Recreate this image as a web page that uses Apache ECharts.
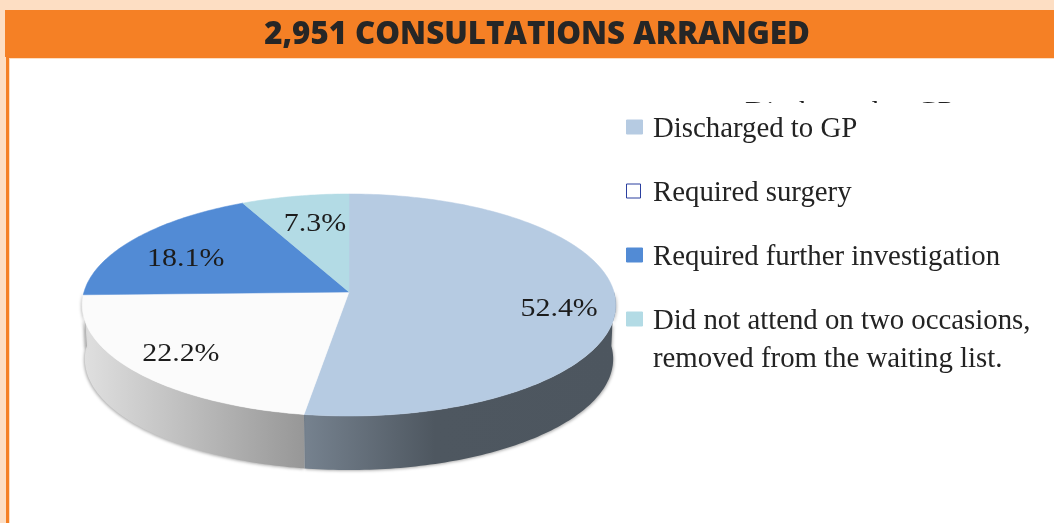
<!DOCTYPE html>
<html>
<head>
<meta charset="utf-8">
<style>
  html, body { margin: 0; padding: 0; background: #fff; }
  #main { width: 1054px; height: 523px; }
</style>
<script src="https://cdn.jsdelivr.net/npm/echarts@6/dist/echarts.min.js"></script>
</head>
<body>
<div id="main"></div>
<script>
var titleText = '2,951 CONSULTATIONS ARRANGED';
var categories = ['Discharged to GP', 'Required surgery', 'Required further investigation', 'Did not attend on two occasions,\nremoved from the waiting list.'];
var shares = [52.4, 22.2, 18.1, 7.3];
var topColors = ['#b6cbe2', '#fbfbfb', '#528bd5', '#b3dbe5'];
var legendColors = ['#b6cbe2', '#ffffff', '#528bd5', '#b3dbe5'];
var legendBorders = ['#b6cbe2', '#2a3f9f', '#528bd5', '#b3dbe5'];

// tilted disc, centre of the slices is not the centre of the ellipse
var cx = 349, cy = 292, rx = 265, ry = 109.5, tilt = -0.117, depth = 54;

// where the percentage sits for each slice, relative to 70% out along the mid angle
var labelNudge = [[24, 11], [-21, 9], [-11, 5], [5, 1]];

function project(deg, f) {
    var a = deg * Math.PI / 180;
    var u = Math.sin(a) * f, v = -Math.cos(a) * f;
    var d = 1 + tilt * v;
    return [cx + rx * u / d, cy + ry * v / d];
}

function sliceRange(index, value) {
    var start = 0;
    for (var i = 0; i < index; i++) start += shares[i];
    return [start * 3.6, (start + value) * 3.6];
}

function rim(a, b) {
    var pts = [];
    for (var t = a; t < b; t += 1) pts.push(project(t, 1));
    pts.push(project(b, 1));
    return pts;
}

function wallFill(index) {
    if (index === 0) {
        return { type: 'linear', x: 0, y: 0, x2: 1, y2: 0, colorStops: [
            { offset: 0, color: '#76828f' }, { offset: 0.42, color: '#4e5760' }, { offset: 1, color: '#4d565f' }
        ] };
    }
    return { type: 'linear', x: 0, y: 0, x2: 1, y2: 0, colorStops: [
        { offset: 0, color: '#e0e0e0' }, { offset: 1, color: '#979797' }
    ] };
}

function renderWall(params, api) {
    var range = sliceRange(params.dataIndex, api.value(0));
    // only the front of the disc shows a wall
    var a = Math.max(range[0], 90), b = Math.min(range[1], 270);
    if (b <= a) return null;
    var top = rim(a, b);
    var bottom = top.map(function (p) {
        return [cx + (p[0] - cx) * 0.99, p[1] + depth];
    }).reverse();
    return {
        type: 'polygon',
        shape: { points: top.concat(bottom) },
        style: {
            fill: wallFill(params.dataIndex),
            shadowBlur: 3,
            shadowColor: 'rgba(0,0,0,0.3)',
            shadowOffsetX: params.dataIndex === 0 ? 1 : -1,
            shadowOffsetY: 1
        }
    };
}

function renderTop(params, api) {
    var value = api.value(0);
    var range = sliceRange(params.dataIndex, value);
    var color = topColors[params.dataIndex];
    var base = project((range[0] + range[1]) / 2, 0.7);
    var nudge = labelNudge[params.dataIndex];
    return {
        type: 'group',
        children: [{
            type: 'polygon',
            shape: { points: [[cx, cy]].concat(rim(range[0], range[1])) },
            style: { fill: color, stroke: color, lineWidth: 0.5 }
        }, {
            type: 'text',
            x: base[0] + nudge[0],
            y: base[1] + nudge[1],
            scaleX: 1.15,
            z2: 10,
            style: {
                text: value.toFixed(1) + '%',
                fill: '#1c1c1c',
                font: '26px "Liberation Serif"',
                align: 'center',
                verticalAlign: 'middle'
            }
        }]
    };
}

function buildGraphic() {
    var items = [
        { type: 'rect', z: 0, shape: { x: 0, y: 0, width: 1054, height: 523 }, style: { fill: '#fddec3' } },
        { type: 'rect', z: 0, shape: { x: 6, y: 57, width: 1048, height: 466 }, style: { fill: '#f58025' } },
        { type: 'rect', z: 0, shape: { x: 5, y: 10, width: 1049, height: 47 }, style: { fill: '#f58025' } },
        { type: 'rect', z: 0, shape: { x: 9, y: 58, width: 1045, height: 465 }, style: { fill: '#fddec3' } },
        { type: 'rect', z: 0, shape: { x: 10, y: 59, width: 1044, height: 464 }, style: { fill: '#ffffff' } },
        // old heading left behind in the source image, only its top shows
        { type: 'text', z: 1, x: 745, y: 98, style: { text: categories[0], fill: '#222', font: '29.5px "Liberation Serif"', textVerticalAlign: 'top' } },
        { type: 'rect', z: 1, shape: { x: 700, y: 103, width: 354, height: 40 }, style: { fill: '#ffffff' } }
    ];
    categories.forEach(function (name, i) {
        var mid = 127 + i * 64;
        items.push({
            type: 'rect', z: 3,
            shape: { x: 626.5, y: mid - 7, width: i === 1 ? 14 : 16, height: 14 },
            style: { fill: legendColors[i], stroke: legendBorders[i], lineWidth: 1 }
        });
        name.split('\n').forEach(function (line, j) {
            items.push({
                type: 'text', z: 3, x: 653, y: mid + 2 + j * 38,
                style: { text: line, fill: '#232323', font: '28.8px "Liberation Serif"', textVerticalAlign: 'middle' }
            });
        });
    });
    return items;
}

var chart = echarts.init(document.getElementById('main'), null, { renderer: 'canvas' });
var sliceData = shares.map(function (v, i) { return { name: categories[i], value: [v] }; });

chart.setOption({
    animation: false,
    backgroundColor: '#ffffff',
    title: {
        text: titleText,
        left: 532,
        top: 15,
        textAlign: 'center',
        z: 5,
        textStyle: { fontFamily: 'Open Sans', fontWeight: 800, fontSize: 31.2, color: '#262626' }
    },
    graphic: buildGraphic(),
    series: [
        { type: 'custom', coordinateSystem: 'none', z: 2, silent: true, renderItem: renderWall, data: sliceData },
        { type: 'custom', coordinateSystem: 'none', z: 3, silent: true, renderItem: renderTop, data: sliceData }
    ]
});
</script>
</body>
</html>
